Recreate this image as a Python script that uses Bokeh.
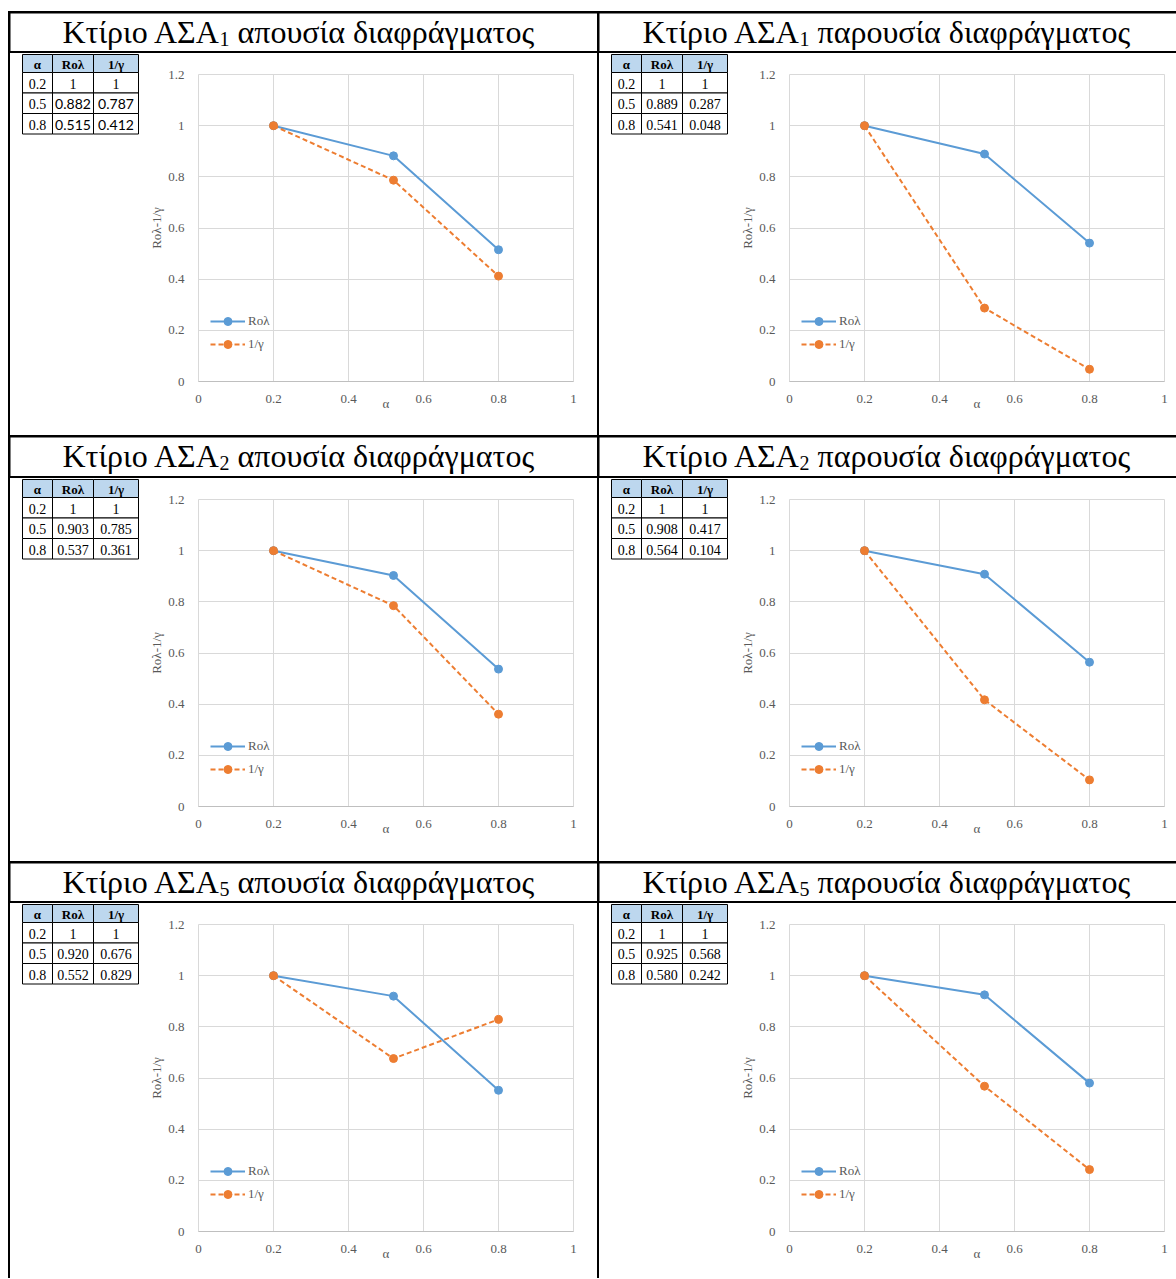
from bokeh.plotting import figure
from bokeh.layouts import row, column
from bokeh.models import Range1d, NumeralTickFormatter, Legend, LegendItem, ColumnDataSource
from bokeh.core.properties import value
from bokeh.embed import file_html
from bokeh.resources import INLINE

# ---------------- data ----------------
building_subs = ["1", "1", "2", "2", "5", "5"]
conditions = ["απουσία", "παρουσία", "απουσία", "παρουσία", "απουσία", "παρουσία"]
title_head = "Κτίριο ΑΣΑ"
title_tail = "διαφράγματος"

table_header = ["α", "Roλ", "1/γ"]
alpha_table = [0.2, 0.5, 0.8]
alpha_plot = [0.2, 0.52, 0.8]      # plotted positions

rol_asa1_abs = [1, 0.882, 0.515]
inv_asa1_abs = [1, 0.787, 0.412]
rol_asa1_pre = [1, 0.889, 0.541]
inv_asa1_pre = [1, 0.287, 0.048]
rol_asa2_abs = [1, 0.903, 0.537]
inv_asa2_abs = [1, 0.785, 0.361]
rol_asa2_pre = [1, 0.908, 0.564]
inv_asa2_pre = [1, 0.417, 0.104]
rol_asa5_abs = [1, 0.920, 0.552]
inv_asa5_abs = [1, 0.676, 0.829]
rol_asa5_pre = [1, 0.925, 0.580]
inv_asa5_pre = [1, 0.568, 0.242]

rol_series = [rol_asa1_abs, rol_asa1_pre, rol_asa2_abs, rol_asa2_pre, rol_asa5_abs, rol_asa5_pre]
inv_series = [inv_asa1_abs, inv_asa1_pre, inv_asa2_abs, inv_asa2_pre, inv_asa5_abs, inv_asa5_pre]

x_ticks = [0, 0.2, 0.4, 0.6, 0.8, 1.0]
y_ticks = [0, 0.2, 0.4, 0.6, 0.8, 1.0, 1.2]

# ---------------- style ----------------
BLUE = "#5B9BD5"
ORANGE = "#ED7D31"
GRID = "#D9D9D9"
AXIS = "#BFBFBF"
TXT = "#595959"
HEAD_FILL = "#BDD7EE"
SERIF = "Liberation Serif"
TABLE_W = 130
TITLE_H = [38, 39, 38]
BODY_H = [382, 383, 375]
CELL_W = [587, 577]
FRAME_LEFT = [188, 190]   # frame offset from the cell's left edge
FRAME_W = 375


def fmt(v):
    return "1" if v == 1 else f"{v:.3f}"


def base_fig(width, height, xr, yr):
    p = figure(width=width, height=height, x_range=xr, y_range=yr, title=None,
               x_axis_type=None, y_axis_type=None,
               toolbar_location=None, output_backend="svg", min_border=0,
               frame_align=False)
    p.outline_line_color = None
    p.background_fill_color = "white"
    p.border_fill_color = "white"
    return p


def title_fig(width, height, sub, cond):
    p = base_fig(width, height, Range1d(0, width), Range1d(height, 0))
    x_sub = 210 if cond == "απουσία" else 201
    mid = 18.5
    p.text(x=[x_sub], y=[mid], text=[title_head], text_align="right",
           text_baseline="middle", text_font=value(SERIF),
           text_font_size="32px", text_color="black")
    p.text(x=[x_sub - 1], y=[mid + 7], text=[sub], text_align="left",
           text_baseline="middle", text_font=value(SERIF),
           text_font_size="20px", text_color="black")
    p.text(x=[x_sub + 17], y=[mid], text=[cond + " " + title_tail], text_align="left",
           text_baseline="middle", text_font=value(SERIF),
           text_font_size="32px", text_color="black")
    return p


def table_fig(height, rol, inv, sans_vals=False):
    p = base_fig(TABLE_W, height, Range1d(0, TABLE_W), Range1d(height, 0))
    cx = [12, 42, 83, 128]
    ry = [1, 19, 39.5, 60, 80.5]
    L, R, T, B, F = [], [], [], [], []
    tx, ty, tt, tf = [], [], [], []
    for i in range(4):
        for j in range(3):
            L.append(cx[j]); R.append(cx[j + 1])
            T.append(ry[i]); B.append(ry[i + 1])
            F.append(HEAD_FILL if i == 0 else "white")
    p.quad(left=L, right=R, top=T, bottom=B, fill_color=F,
           line_color="black", line_width=1)
    hx = [(cx[j] + cx[j + 1]) / 2 for j in range(3)]
    p.text(x=hx, y=[(ry[0] + ry[1]) / 2 + 1] * 3, text=table_header,
           text_align="center", text_baseline="middle", text_font=value(SERIF),
           text_font_style="bold", text_font_size="13px", text_color="black")
    for i in range(3):
        vals = [str(alpha_table[i]), fmt(rol[i]), fmt(inv[i])]
        for j in range(3):
            tx.append(hx[j]); ty.append((ry[i + 1] + ry[i + 2]) / 2 + 1)
            tt.append(vals[j])
            tf.append("Lato" if (sans_vals and i > 0 and j > 0) else SERIF)
    src = ColumnDataSource(dict(x=tx, y=ty, t=tt, f=tf))
    p.text(x="x", y="y", text="t", text_font="f", source=src,
           text_align="center", text_baseline="middle",
           text_font_size="14px", text_color="black")
    return p


def chart_fig(width, height, mbl, mbr, mbb, rol, inv):
    p = figure(width=width, height=height, x_range=Range1d(0, 1), y_range=Range1d(0, 1.2),
               min_border_left=mbl, min_border_right=mbr, min_border_top=21,
               min_border_bottom=mbb, toolbar_location=None, output_backend="svg",
               frame_align=False)
    p.background_fill_color = "white"
    p.border_fill_color = "white"
    p.outline_line_color = GRID
    p.xaxis.ticker = x_ticks
    p.yaxis.ticker = y_ticks
    p.xgrid.ticker = x_ticks
    p.ygrid.ticker = y_ticks
    p.xaxis.formatter = NumeralTickFormatter(format="0.[0]")
    p.yaxis.formatter = NumeralTickFormatter(format="0.[0]")
    p.grid.grid_line_color = GRID
    p.grid.grid_line_width = 1
    for ax in (p.xaxis[0], p.yaxis[0]):
        ax.major_tick_line_color = None
        ax.minor_tick_line_color = None
        ax.major_tick_out = 0
        ax.major_tick_in = 0
        ax.major_label_text_font = SERIF
        ax.major_label_text_font_size = "13px"
        ax.major_label_text_color = TXT
        ax.axis_label_text_font = SERIF
        ax.axis_label_text_font_style = "normal"
        ax.axis_label_text_font_size = "13px"
        ax.axis_label_text_color = TXT
    p.xaxis.axis_line_color = AXIS
    p.yaxis.axis_line_color = None
    p.xaxis.major_label_standoff = 13
    p.yaxis.major_label_standoff = 14
    p.xaxis.axis_label = "α"
    p.xaxis.axis_label_standoff = -10
    p.yaxis.axis_label = "Roλ-1/γ"
    p.yaxis.axis_label_standoff = 1

    l1 = p.line(alpha_plot, rol, line_color=BLUE, line_width=2)
    s1 = p.scatter(alpha_plot, rol, size=8, fill_color=BLUE, line_color=BLUE)
    l2 = p.line(alpha_plot, inv, line_color=ORANGE, line_width=2, line_dash="5 3")
    s2 = p.scatter(alpha_plot, inv, size=8, fill_color=ORANGE, line_color=ORANGE)
    legend = Legend(items=[LegendItem(label="Roλ", renderers=[l1, s1]),
                           LegendItem(label="1/γ", renderers=[l2, s2])],
                    location=(12, 27))
    legend.background_fill_alpha = 0
    legend.border_line_color = None
    legend.label_text_font = SERIF
    legend.label_text_font_size = "13px"
    legend.label_text_color = TXT
    legend.glyph_width = 35
    legend.glyph_height = 20
    legend.label_height = 20
    legend.spacing = 3
    legend.padding = 0
    legend.margin = 0
    legend.label_standoff = 3
    p.add_layout(legend)
    return p


grid_rows = []
for r in range(3):
    cells = []
    for c in range(2):
        idx = r * 2 + c
        cw = CELL_W[c]
        bh = BODY_H[r]
        tfig = title_fig(cw, TITLE_H[r], building_subs[idx], conditions[idx])
        tab = table_fig(bh, rol_series[idx], inv_series[idx], sans_vals=(idx == 0))
        mbl = FRAME_LEFT[c] - TABLE_W
        mbr = cw - TABLE_W - mbl - FRAME_W
        mbb = bh - 21 - 307
        ch = chart_fig(cw - TABLE_W, bh, mbl, mbr, mbb, rol_series[idx], inv_series[idx])
        body = row(tab, ch, spacing=0, styles={"background-color": "white"})
        cells.append(column(tfig, body, spacing=2))
    grid_rows.append(row(*cells, spacing=2))

layout = column(*grid_rows, spacing=2,
                styles={"background-color": "black", "padding-top": "2px",
                        "padding-left": "2px", "margin-top": "11px",
                        "margin-left": "8px"})

open("out.html", "w").write(file_html(layout, INLINE))
